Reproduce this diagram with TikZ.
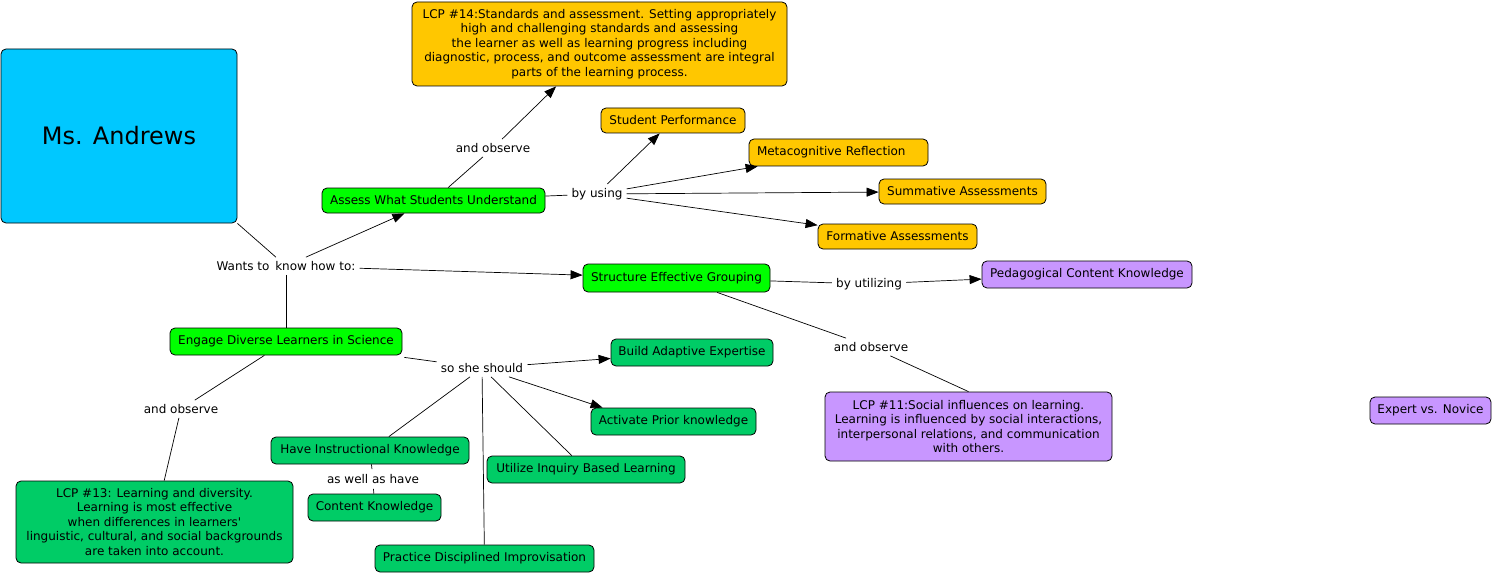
\documentclass[tikz,border=0pt]{standalone}
\usepackage{fontspec}
\setmainfont{DejaVu Sans}
\usetikzlibrary{arrows.meta}
\definecolor{cyanbox}{RGB}{0,200,255}
\definecolor{orangebox}{RGB}{255,199,0}
\definecolor{limebox}{RGB}{0,255,0}
\definecolor{greenbox}{RGB}{0,204,102}
\definecolor{purplebox}{RGB}{200,150,255}
\begin{document}
\begin{tikzpicture}[x=1pt,y=-1pt,
  cbox/.style={draw=black, line width=0.8pt, rounded corners=5pt, align=center, inner sep=0pt,
    font=\fontsize{12}{14.5}\selectfont, text=black},
  lbl/.style={inner sep=4pt, font=\fontsize{12}{14.5}\selectfont},
  conn/.style={line width=0.7pt},
  arr/.style={line width=0.7pt, -{Triangle[length=12pt,width=9pt]}}
]
\useasboundingbox (0,0) rectangle (1494,575);

% boxes
\node[cbox, fill=cyanbox, minimum width=236, minimum height=174, font=\fontsize{24}{28}\selectfont] (ms) at (119,136) {Ms. Andrews};
\node[cbox, fill=orangebox, minimum width=375, minimum height=84] (lcp14) at (599.5,44) {LCP \#14:Standards and assessment. Setting appropriately\\high and challenging standards and assessing\\the learner as well as learning progress including\\diagnostic, process, and outcome assessment are integral\\parts of the learning process.};
\node[cbox, fill=orangebox, minimum width=144, minimum height=25] (sp) at (673,120.5) {Student Performance};
\node[cbox, fill=orangebox, minimum height=27, text width=163, inner xsep=8, align=left] (meta) at (838.5,152.5) {Metacognitive Reflection};
\node[cbox, fill=orangebox, minimum width=167, minimum height=25] (sum) at (962.5,191.5) {Summative Assessments};
\node[cbox, fill=orangebox, minimum width=159, minimum height=25] (form) at (897.5,236.5) {Formative Assessments};
\node[cbox, fill=limebox, minimum width=223, minimum height=25] (assess) at (433.5,200.5) {Assess What Students Understand};
\node[cbox, fill=limebox, minimum width=187, minimum height=28] (struct) at (676.5,278) {Structure Effective Grouping};
\node[cbox, fill=purplebox, minimum width=210, minimum height=27] (pck) at (1087,274.5) {Pedagogical Content Knowledge};
\node[cbox, fill=purplebox, minimum width=287, minimum height=69] (lcp11) at (968.5,426.5) {LCP \#11:Social influences on learning.\\Learning is influenced by social interactions,\\interpersonal relations, and communication\\with others.};
\node[cbox, fill=purplebox, minimum width=121, minimum height=27] (evn) at (1430.5,410.5) {Expert vs. Novice};
\node[cbox, fill=limebox, minimum width=232, minimum height=27] (engage) at (286,341.5) {Engage Diverse Learners in Science};
\node[cbox, fill=greenbox, minimum width=162, minimum height=27] (build) at (692,352.5) {Build Adaptive Expertise};
\node[cbox, fill=greenbox, minimum width=165, minimum height=27] (activ) at (673.5,421.5) {Activate Prior knowledge};
\node[cbox, fill=greenbox, minimum width=198, minimum height=27] (hik) at (370,450.5) {Have Instructional Knowledge};
\node[cbox, fill=greenbox, minimum width=133, minimum height=27] (ck) at (374.5,507.5) {Content Knowledge};
\node[cbox, fill=greenbox, minimum width=198, minimum height=27] (uibl) at (586,469.5) {Utilize Inquiry Based Learning};
\node[cbox, fill=greenbox, minimum width=219, minimum height=27] (pdi) at (484.5,558.5) {Practice Disciplined Improvisation};
\node[cbox, fill=greenbox, minimum width=277, minimum height=82] (lcp13) at (154.5,522) {LCP \#13: Learning and diversity.\\Learning is most effective\\when differences in learners\textquotesingle\\linguistic, cultural, and social backgrounds\\are taken into account.};

% linking phrases
\node[lbl] (wants) at (286,266) {Wants to\hspace{2pt} know how to:};
\node[lbl] (obs1) at (493,148) {and observe};
\node[lbl] (byusing) at (597,194) {by using};
\node[lbl] (byutil) at (869,284) {by utilizing};
\node[lbl] (obs2) at (871,347) {and observe};
\node[lbl] (soshe) at (482,368) {so she should};
\node[lbl, inner sep=5pt] (aswell) at (373,479) {as well as have};
\node[lbl] (obs3) at (181,409) {and observe};

% connectors
\draw[conn] (ms.south east) -- (wants);
\draw[arr] (wants) -- (assess);
\draw[arr] (wants) -- (struct);
\draw[conn] (wants) -- (engage);

\draw[conn] (assess) -- (obs1);
\draw[arr] (obs1) -- (lcp14);
\draw[conn] (assess) -- (byusing);
\draw[arr] (byusing) -- (sp);
\draw[arr] (byusing) -- (meta);
\draw[arr] (byusing) -- (sum);
\draw[arr] (byusing) -- (form);

\draw[conn] (struct) -- (byutil);
\draw[arr] (byutil) -- (pck);
\draw[conn] (struct) -- (obs2);
\draw[conn] (obs2) -- (lcp11.north);

\draw[conn] (engage) -- (obs3);
\draw[conn] (obs3) -- (lcp13);
\draw[conn] ([xshift=2pt,yshift=-2pt]engage.south east) -- (soshe);
\draw[arr] (soshe) -- (build);
\draw[arr] (soshe) -- ([xshift=12pt]activ.north west);
\draw[conn] (soshe) -- (hik);
\draw[conn] (soshe) -- (pdi);
\draw[conn] (soshe) -- (uibl);
\draw[conn] (hik) -- (aswell);
\draw[conn] (aswell) -- (ck);
\end{tikzpicture}
\end{document}
